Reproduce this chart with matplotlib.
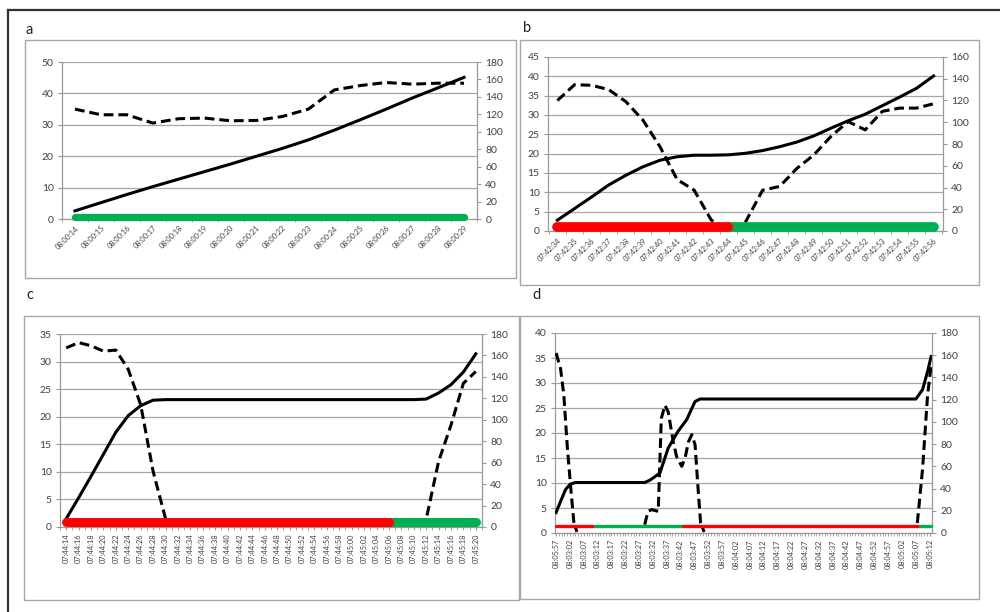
import numpy as np
import matplotlib.pyplot as plt
from matplotlib.patches import Rectangle
from matplotlib.lines import Line2D

plt.rcParams['font.family'] = ['Lato', 'DejaVu Sans']

# ---- panel a (one sample per second) ----
a_labels = ['08:00:14', '08:00:15', '08:00:16', '08:00:17', '08:00:18', '08:00:19',
            '08:00:20', '08:00:21', '08:00:22', '08:00:23', '08:00:24', '08:00:25',
            '08:00:26', '08:00:27', '08:00:28', '08:00:29']
a_solid = [2.6, 5.2, 7.8, 10.3, 12.7, 15.1, 17.5, 20.0, 22.5, 25.2, 28.3, 31.6,
           35.0, 38.5, 41.8, 45.1]
a_dashed = [126, 119.5, 119.5, 110, 115, 115.7, 112.6, 113, 117.6, 126, 148, 153,
            156.5, 154.6, 155.7, 155.7]
a_status = [(0, 'G')]

# ---- panel b (one sample per second) ----
b_labels = ['07:42:34', '07:42:35', '07:42:36', '07:42:37', '07:42:38', '07:42:39',
            '07:42:40', '07:42:41', '07:42:42', '07:42:43', '07:42:44', '07:42:45',
            '07:42:46', '07:42:47', '07:42:48', '07:42:49', '07:42:50', '07:42:51',
            '07:42:52', '07:42:53', '07:42:54', '07:42:55', '07:42:56']
b_solid = [2.8, 5.8, 8.8, 11.9, 14.4, 16.6, 18.3, 19.2, 19.6, 19.6, 19.7, 20.1,
           20.8, 21.8, 23.0, 24.6, 26.6, 28.5, 30.2, 32.4, 34.6, 36.9, 40.1]
b_dashed = [120, 134.5, 134, 130, 119, 102, 77.5, 47.4, 37.5, 10, 2, 8.3,
            37.5, 41, 57.5, 70, 87, 100.6, 93, 110, 113, 113, 117]
b_status = [(0, 'R'), (10, 'G')]

# ---- panel c (one sample per 2 s) ----
c_labels = ['07:44:14', '07:44:16', '07:44:18', '07:44:20', '07:44:22', '07:44:24',
            '07:44:26', '07:44:28', '07:44:30', '07:44:32', '07:44:34', '07:44:36',
            '07:44:38', '07:44:40', '07:44:42', '07:44:44', '07:44:46', '07:44:48',
            '07:44:50', '07:44:52', '07:44:54', '07:44:56', '07:44:58', '07:45:00',
            '07:45:02', '07:45:04', '07:45:06', '07:45:08', '07:45:10', '07:45:12',
            '07:45:14', '07:45:16', '07:45:18', '07:45:20']
c_solid = [1.5, 5.3, 9.2, 13.2, 17.2, 20.2, 22.0, 23.0, 23.1, 23.1, 23.1, 23.1,
           23.1, 23.1, 23.1, 23.1, 23.1, 23.1, 23.1, 23.1, 23.1, 23.1, 23.1, 23.1,
           23.1, 23.1, 23.1, 23.1, 23.1, 23.2, 24.3, 25.8, 28.1, 31.4]
c_dashed = [167, 172, 169, 164, 165, 147, 114, 52, 8, 0, 0, 0,
            0, 0, 0, 0, 0, 0, 0, 0, 0, 0, 0, 0,
            0, 0, 0, 0, 0, 7, 61, 95, 134, 145]
c_status = [(0, 'R'), (26, 'G')]

# ---- panel d (seconds from 08:02:57, labels every 5 s) ----
d_labels = ['08:05:57', '08:03:02', '08:03:07', '08:03:12', '08:03:17', '08:03:22',
            '08:03:27', '08:03:32', '08:03:37', '08:03:42', '08:03:47', '08:03:52',
            '08:03:57', '08:04:02', '08:04:07', '08:04:12', '08:04:17', '08:04:22',
            '08:04:27', '08:04:32', '08:04:37', '08:04:42', '08:04:47', '08:04:52',
            '08:04:57', '08:05:02', '08:05:07', '08:05:12']
d_solid_t = [0, 1.6, 3.4, 5.2, 7, 32, 34, 37.5, 40.5, 44, 47.2, 50.2, 52,
             130, 132.4, 134.2, 135.5]
d_solid = [4.1, 6.3, 8.7, 9.8, 10.1, 10.1, 10.6, 12, 17, 20.3, 22.7, 26.3, 26.8,
           26.8, 28.7, 32.3, 35.3]
# nan = no speed reading (vehicle stopped)
d_dashed_t = [0, 1.6, 2.8, 4, 5.2, 6.4, 7.5, 20, 32, 33.2, 34.5, 36.9, 38, 39.3,
              40.5, 42.3, 43.5, 45.4, 46.6, 47.8, 49, 50.2, 51.2, 52.2, 53.5,
              90, 130.5, 132.4, 134.2, 135.5]
d_dashed = [162, 148, 124, 79, 43, 10, 1, np.nan, 7.5, 19.5, 21, 19.5, 103, 115,
            109, 82.5, 69, 60, 67.5, 82, 88.5, 79.5, 43, 9, 1,
            np.nan, 9, 58, 124, 151]
d_status = [(0, 'R'), (13, 'G'), (46, 'R'), (130.5, 'G')]

W, H = 1000, 612
STATUS_COLORS = {'R': '#ff0000', 'G': '#00b050'}
GRID = '#a6a6a6'
TXT = '#404040'


def fig_rect(x0, y0, x1, y1):
    # pixel box -> figure fraction [left, bottom, width, height]
    return [x0 / W, 1 - y1 / H, (x1 - x0) / W, (y1 - y0) / H]


def draw_status(ax, status, end, y, lw, trans):
    segs = []
    for i, (start, state) in enumerate(status):
        stop = status[i + 1][0] if i + 1 < len(status) else end
        segs.append((start, stop, state))
    # green first so the red round end sits on top
    for start, stop, state in sorted(segs, key=lambda s: s[2] == 'R'):
        ax.plot([start, stop], [y, y], color=STATUS_COLORS[state], lw=lw,
                solid_capstyle='round', transform=trans, zorder=5, clip_on=False)


def make_panel(fig, box, x, solid, xd, dashed, status, status_y, status_lw,
               lmax, lstep, rmax, rstep, xlim, tick_pos, labels, rot, minor):
    ax = fig.add_axes(fig_rect(*box))
    ax2 = ax.twinx()
    ax.plot(x, solid, color='black', lw=2.2, zorder=3)
    ax2.plot(xd, dashed, color='black', lw=2.2, ls=(0, (3.2, 1.6)), zorder=3)
    draw_status(ax2, status, x[-1], status_y, status_lw, ax.transData)

    ax.set_xlim(*xlim)
    ax.set_ylim(0, lmax)
    ax2.set_ylim(0, rmax)
    ax.set_yticks(np.arange(0, lmax + 0.1, lstep))
    ax2.set_yticks(np.arange(0, rmax + 0.1, rstep))
    ax.yaxis.grid(True, color=GRID, lw=0.9)
    ax.set_axisbelow(True)

    for a in (ax, ax2):
        for s in a.spines.values():
            s.set_visible(False)
    ax.spines['left'].set_visible(True)
    ax.spines['bottom'].set_visible(True)
    ax2.spines['right'].set_visible(True)
    for s in (ax.spines['left'], ax.spines['bottom'], ax2.spines['right']):
        s.set_color('#9a9a9a')
        s.set_linewidth(0.9)

    ax.tick_params(axis='y', length=3, color='#9a9a9a', labelsize=7.5,
                   labelcolor=TXT, pad=3)
    ax2.tick_params(axis='y', length=3, color='#9a9a9a', labelsize=7.5,
                    labelcolor=TXT, pad=3)

    ax.set_xticks(tick_pos)
    if rot == 45:
        ax.set_xticklabels(labels, rotation=45, ha='right', va='top',
                           rotation_mode='anchor', fontsize=5.3, color=TXT)
        ax.tick_params(axis='x', which='major', length=0, pad=4)
    else:
        ax.set_xticklabels(labels, rotation=90, ha='center', va='top',
                           fontsize=5.3, color=TXT)
        ax.tick_params(axis='x', which='major', length=2.5, color='#9a9a9a', pad=2)
    ax.set_xticks(minor, minor=True)
    ax.tick_params(axis='x', which='minor', length=2.2, color='#9a9a9a', width=0.6)
    return ax, ax2


fig = plt.figure(figsize=(10, 6.12), dpi=100)

# outer frame (top and left edges only) and panel boxes
fig.add_artist(Line2D([8 / W, 1], [1 - 9.5 / H, 1 - 9.5 / H], color='#333333',
                      lw=1.6, transform=fig.transFigure))
fig.add_artist(Line2D([8 / W, 8 / W], [0, 1 - 9.5 / H], color='#333333',
                      lw=1.6, transform=fig.transFigure))
for x0, y0, x1, y1 in [(25, 40, 516, 278), (520, 40, 979, 285),
                       (24, 316, 519, 600), (520, 316, 979, 599)]:
    l, b, w, h = fig_rect(x0, y0, x1, y1)
    fig.add_artist(Rectangle((l, b), w, h, fill=False, ec='#a6a6a6', lw=1.0,
                             transform=fig.transFigure))

for lab, px, py in [('a', 26, 30), ('b', 523, 28), ('c', 26, 295), ('d', 532, 295)]:
    fig.text(px / W, 1 - py / H, lab, fontsize=10.5, color='#222222',
             ha='left', va='center')

# a
xa = np.arange(len(a_labels))
make_panel(fig, (62, 62, 477, 219), xa, a_solid, xa, a_dashed, a_status, 0.55, 5.2,
           50, 10, 180, 20, (-0.5, len(xa) - 0.5), xa, a_labels, 45,
           np.arange(-0.5, len(xa), 1.0))

# b
xb = np.arange(len(b_labels))
make_panel(fig, (548, 57, 943, 231), xb, b_solid, xb, b_dashed, b_status, 1.0, 7,
           45, 5, 160, 20, (-0.55, len(xb) - 0.45), xb, b_labels, 45,
           np.arange(-0.5, len(xb), 1.0))

# c
xc = np.arange(len(c_labels))
make_panel(fig, (60, 334, 482, 527), xc, c_solid, xc, c_dashed, c_status, 0.85, 6.5,
           35, 5, 180, 20, (-0.25, len(xc) - 0.6), xc, c_labels, 90,
           np.arange(-0.5, len(xc), 1.0))

# d
d_ticks = np.arange(len(d_labels)) * 5
make_panel(fig, (555, 333, 932, 533), d_solid_t, d_solid, d_dashed_t, d_dashed,
           d_status, 1.4, 2.4, 40, 5, 180, 20, (-0.4, 135.8), d_ticks, d_labels, 90,
           np.arange(0, 136, 1))

fig.savefig('out.png', dpi=100, facecolor='white')
